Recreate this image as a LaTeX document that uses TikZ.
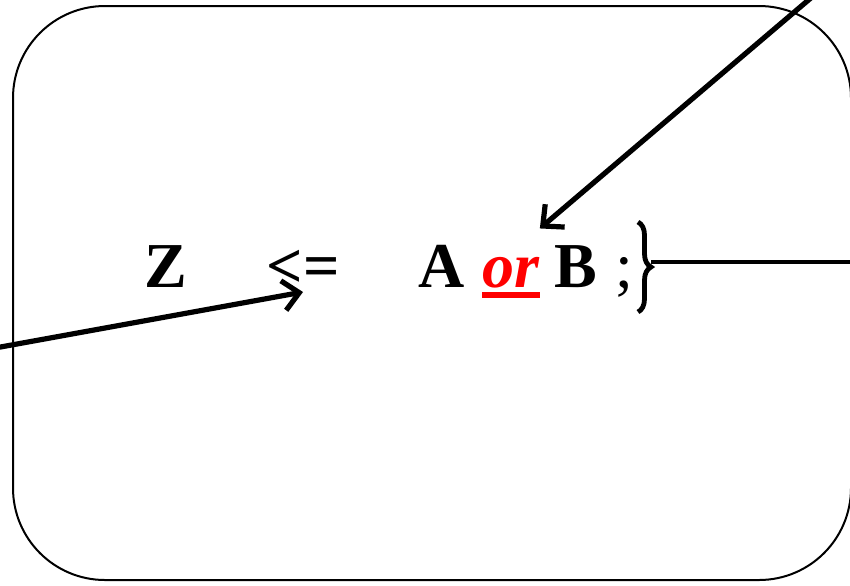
\documentclass[tikz,border=0pt]{standalone}
\usepackage{fontspec}
\setmainfont{Liberation Serif}
\usetikzlibrary{arrows.meta,decorations.pathreplacing}
\definecolor{rojoOR}{HTML}{FF0000}

\begin{document}
\begin{tikzpicture}[x=.5pt,y=-.5pt,
    >={Straight Barb[length=8pt,width=15pt]},
    word/.style={anchor=base,inner sep=0pt,font=\fontsize{32}{38}\selectfont\bfseries},
    flecha/.style={line width=2.6pt,->}]
  \useasboundingbox (0,0) rectangle (850,585);
  \draw[line width=1pt,rounded corners=46pt] (13,6) rectangle (851,580);
  \node[word] (z) at (166,287) {Z};
  \node[word] (le) at (303,287) {<=};
  \node[word] (a) at (442,287) {A};
  \node[word,text=rojoOR,font=\fontsize{32}{38}\selectfont\bfseries\itshape] (or) at (511,287) {or};
  \node[word,font=\fontsize{32}{38}\selectfont] (semi) at (624,287) {;};
  \node[word] (b) at (576,287) {B};
  \draw[rojoOR,line width=3pt] ([yshift=-4pt]or.base west) -- ([yshift=-4pt]or.base east);
  % arrows coming from outside
  \coordinate (in1) at (-5,348);
  \coordinate (in2) at (812,-3);
  \draw[flecha] (in1) -- ([yshift=-2.5pt]le.base);
  \draw[flecha] (in2) -- ([yshift=14pt]or.north east);
  % brace and line to the right
  \draw[line width=2.4pt,decorate,decoration={brace,amplitude=6.5pt}] (638,222) -- (638,312);
  \coordinate (tip) at (651,262);
  \coordinate (out) at (855,262);
  \draw[line width=2.2pt] (tip) -- (out);
\end{tikzpicture}
\end{document}
